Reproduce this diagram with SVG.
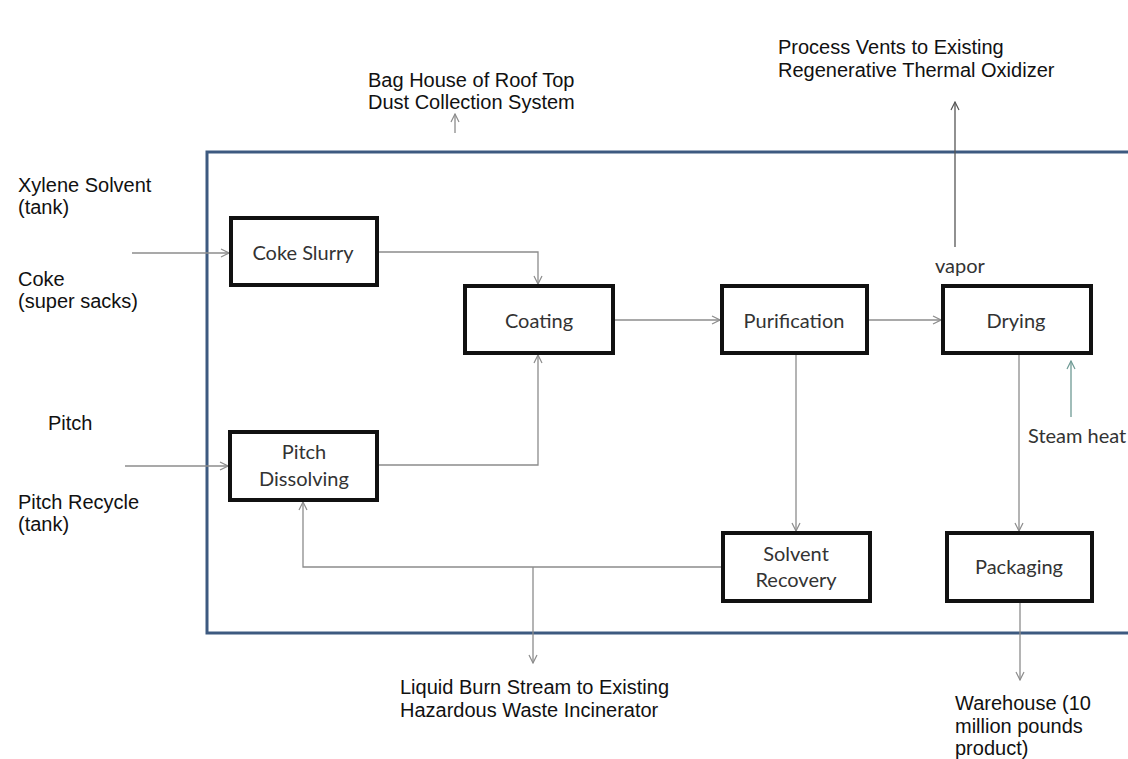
<svg xmlns="http://www.w3.org/2000/svg" width="1128" height="759" viewBox="0 0 1128 759">
<defs>
<style>
.lbl{font-family:"Liberation Sans",Arial,sans-serif;font-size:20px;fill:#111}
.box{fill:#fff;stroke:#111;stroke-width:4}
.bt{font-family:Lato,"Noto Sans",sans-serif;font-size:20px;fill:#333;text-anchor:middle}
.c{fill:none;stroke:#8c8c8c;stroke-width:1.3}
</style>
<marker id="a" viewBox="0 0 10 10" refX="9" refY="5" markerWidth="10" markerHeight="10" markerUnits="userSpaceOnUse" orient="auto">
<path d="M1,1 L9,5 L1,9" fill="none" stroke="#8c8c8c" stroke-width="1.2"/>
</marker>
<marker id="ad" viewBox="0 0 10 10" refX="9" refY="5" markerWidth="10" markerHeight="10" markerUnits="userSpaceOnUse" orient="auto">
<path d="M1,1 L9,5 L1,9" fill="none" stroke="#555" stroke-width="1.2"/>
</marker>
<marker id="ag" viewBox="0 0 10 10" refX="9" refY="5" markerWidth="10" markerHeight="10" markerUnits="userSpaceOnUse" orient="auto">
<path d="M1,1 L9,5 L1,9" fill="none" stroke="#6e9a94" stroke-width="1.2"/>
</marker>
</defs>
<rect width="1128" height="759" fill="#fff"/>
<g id="frame">
<rect x="207" y="152" width="940" height="481" fill="none" stroke="#3d5a80" stroke-width="3"/>
</g>
<g id="connectors">
<path class="c" d="M132,253 H229" marker-end="url(#a)"/>
<path class="c" d="M377,252 H538 V284" marker-end="url(#a)"/>
<path class="c" d="M125,466 H228" marker-end="url(#a)"/>
<path class="c" d="M377,465 H538 V355" marker-end="url(#a)"/>
<path class="c" d="M613,320 H720" marker-end="url(#a)"/>
<path class="c" d="M867,320 H941" marker-end="url(#a)"/>
<path class="c" d="M796,353 V531" marker-end="url(#a)"/>
<path class="c" d="M1019,353 V531" marker-end="url(#a)"/>
<path class="c" d="M723,567 H303 V502" marker-end="url(#a)"/>
<path class="c" d="M533,567 V663" marker-end="url(#a)"/>
<path class="c" d="M1020,601 V680" marker-end="url(#a)"/>
<path fill="none" stroke="#555" stroke-width="1.3" d="M955,247 V102" marker-end="url(#ad)"/>
<path class="c" d="M455,133 V114" marker-end="url(#a)"/>
<path fill="none" stroke="#6e9a94" stroke-width="1.3" d="M1071,417 V361" marker-end="url(#ag)"/>
</g>
<g id="coke-slurry"><rect class="box" x="231" y="218" width="146" height="67"/><text class="bt" x="303" y="260">Coke Slurry</text></g>
<g id="coating"><rect class="box" x="465" y="286" width="148" height="67"/><text class="bt" x="539" y="328">Coating</text></g>
<g id="purification"><rect class="box" x="722" y="286" width="145" height="67"/><text class="bt" x="794" y="328">Purification</text></g>
<g id="drying"><rect class="box" x="943" y="286" width="148" height="67"/><text class="bt" x="1016" y="328">Drying</text></g>
<g id="pitch-dissolving"><rect class="box" x="230" y="432" width="147" height="68"/><text class="bt" x="304" y="459">Pitch</text><text class="bt" x="304" y="486">Dissolving</text></g>
<g id="solvent-recovery"><rect class="box" x="723" y="533" width="147" height="68"/><text class="bt" x="796" y="561">Solvent</text><text class="bt" x="796" y="587">Recovery</text></g>
<g id="packaging"><rect class="box" x="947" y="533" width="145" height="68"/><text class="bt" x="1019" y="574">Packaging</text></g>
<g id="labels">
<text class="lbl" x="368" y="87">Bag House of Roof Top</text>
<text class="lbl" x="368" y="109">Dust Collection System</text>
<text class="lbl" x="778" y="54">Process Vents to Existing</text>
<text class="lbl" x="778" y="77">Regenerative Thermal Oxidizer</text>
<text class="lbl" x="18" y="192">Xylene Solvent</text>
<text class="lbl" x="18" y="214">(tank)</text>
<text class="lbl" x="18" y="286">Coke</text>
<text class="lbl" x="18" y="308">(super sacks)</text>
<text class="lbl" x="48" y="430">Pitch</text>
<text class="lbl" x="18" y="509">Pitch Recycle</text>
<text class="lbl" x="18" y="531">(tank)</text>
<text class="lbl" x="400" y="694">Liquid Burn Stream to Existing</text>
<text class="lbl" x="400" y="717">Hazardous Waste Incinerator</text>
<text class="lbl" x="955" y="710">Warehouse (10</text>
<text class="lbl" x="955" y="733">million pounds</text>
<text class="lbl" x="955" y="755">product)</text>
<text class="bt" x="935" y="273" style="text-anchor:start">vapor</text>
<text class="bt" x="1028" y="443" style="text-anchor:start">Steam heat</text>
</g>
</svg>
